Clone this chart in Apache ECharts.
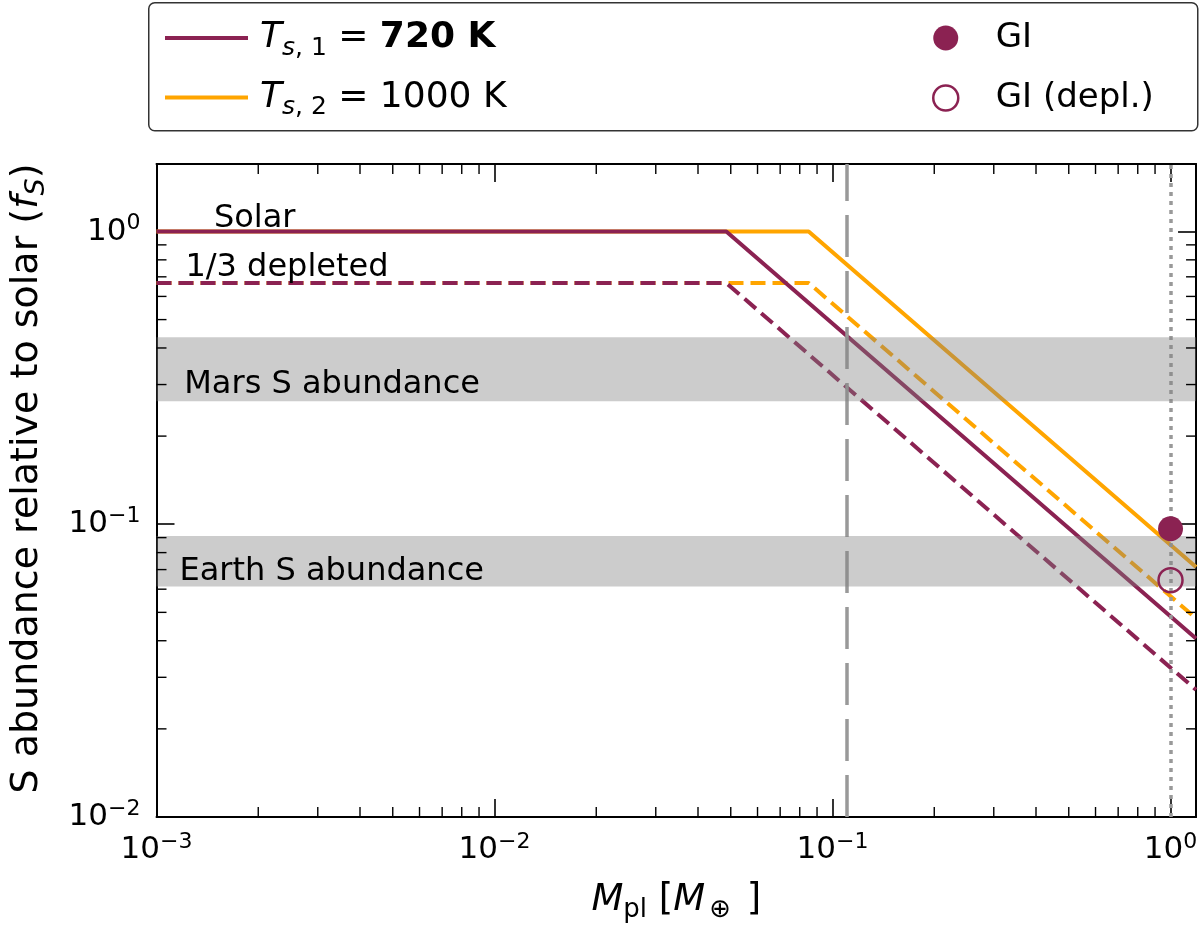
<!DOCTYPE html>
<html><head><meta charset="utf-8">
<script src="https://cdn.jsdelivr.net/npm/echarts@6/dist/echarts.min.js"></script>
<style>html,body{margin:0;padding:0;background:#fff}#c{width:1200px;height:928px}</style>
</head><body><div id="c"></div>
<script>
// ---------- data ----------
const PURPLE = '#8b2252';
const ORANGE = '#ffa500';
const FONT = 'DejaVu Sans';

const X_MIN = 0.001, X_MAX = 1.19;
const Y_MIN = 0.01, Y_MAX = 1.7;

const xTickExponents = ['−3', '−2', '−1', '0'];
const yTickExponents = ['−2', '−1', '0'];

// planet mass [M_earth] vs S abundance relative to solar
const tsOneSolid = [[0.001, 1.0], [0.0485, 1.0], [1.19, 0.0407]];
const tsTwoSolid = [[0.001, 1.0], [0.085, 1.0], [1.19, 0.0714]];
const tsOneDepl  = [[0.001, 0.667], [0.0485, 0.667], [1.19, 0.0272]];
const tsTwoDepl  = [[0.001, 0.667], [0.085, 0.667], [1.19, 0.0477]];

const giPoint     = [[1.0, 0.0965]];
const giDeplPoint = [[1.0, 0.0644]];

const marsBand  = [0.263, 0.4355];
const earthBand = [0.0613, 0.0912];

const marsMass = 0.107;
const earthMass = 1.0;

const minorMultipliers = [2, 3, 4, 5, 6, 7, 8, 9];
const xDecades = [0.001, 0.01, 0.1];
const yDecades = [0.01, 0.1];

// ---------- helpers ----------
const xMinor = [];
xDecades.forEach(d => minorMultipliers.forEach(m => { const v = d * m; if (v <= X_MAX) xMinor.push([v, 1]); }));
const yMinor = [];
yDecades.forEach(d => minorMultipliers.forEach(m => { const v = d * m; if (v <= Y_MAX) yMinor.push([0.01, v]); }));

const tickRich = {
  b: { fontSize: 31, fontFamily: FONT, color: '#000' },
  sup: { fontSize: 22, fontFamily: FONT, color: '#000', padding: [0, 0, 16, 0] }
};
function tickLabel(v, base, labels) {
  const l = Math.log10(v);
  const r = Math.round(l);
  if (Math.abs(l - r) > 0.01) return '';
  const s = labels[r - base];
  return s === undefined ? '' : '{b|10}{sup|' + s + '}';
}

const commonAxisLine = { show: true, lineStyle: { color: '#000', width: 2 } };
const commonTick = { show: true, inside: true, length: 18, lineStyle: { color: '#000', width: 1.6 } };

const option = {
  animation: false,
  backgroundColor: '#fff',
  grid: { left: 147, right: 3, top: 164, bottom: 106, containLabel: false },
  xAxis: [
    {
      type: 'log', logBase: 10, min: X_MIN, max: X_MAX, position: 'bottom',
      axisLine: commonAxisLine, axisTick: commonTick, splitLine: { show: false },
      axisLabel: {
        margin: 14, color: '#000', showMaxLabel: false,
        formatter: v => tickLabel(v, -3, xTickExponents),
        rich: tickRich
      },
      name: '{it|M}{sub|pl}{n| [}{it|M}{sub2|⊕}{n| ]}',
      nameLocation: 'middle', nameGap: 60,
      nameTextStyle: {
        color: '#000', fontFamily: FONT, fontSize: 37,
        rich: {
          it: { fontSize: 37, fontStyle: 'italic', fontFamily: FONT, color: '#000' },
          n: { fontSize: 37, fontFamily: FONT, color: '#000' },
          sub: { fontSize: 26, fontFamily: FONT, color: '#000', padding: [20, 0, 0, 0] },
          sub2: { fontSize: 26, fontFamily: FONT, color: '#000', padding: [20, 4, 0, 4] }
        }
      }
    },
    {
      type: 'log', logBase: 10, min: X_MIN, max: X_MAX, position: 'top',
      axisLine: commonAxisLine, axisTick: commonTick, splitLine: { show: false },
      axisLabel: { show: false }
    }
  ],
  yAxis: [
    {
      type: 'log', logBase: 10, min: Y_MIN, max: Y_MAX, position: 'left',
      axisLine: commonAxisLine, axisTick: commonTick, splitLine: { show: false },
      axisLabel: {
        margin: 16, color: '#000', showMaxLabel: false,
        formatter: v => tickLabel(v, -2, yTickExponents),
        rich: tickRich
      },
      name: '{n|S abundance relative to solar (}{it|f}{sub|S}{n|)}',
      nameLocation: 'middle', nameGap: 106, nameRotate: 90,
      nameTextStyle: {
        color: '#000', fontFamily: FONT, fontSize: 38, padding: [0, 0, 0, 24],
        rich: {
          it: { fontSize: 38, fontStyle: 'italic', fontFamily: FONT, color: '#000' },
          n: { fontSize: 38, fontFamily: FONT, color: '#000' },
          sub: { fontSize: 27, fontStyle: 'italic', fontFamily: FONT, color: '#000', padding: [20, 0, 0, 0] }
        }
      }
    },
    {
      type: 'log', logBase: 10, min: Y_MIN, max: Y_MAX, position: 'right',
      axisLine: commonAxisLine, axisTick: commonTick, splitLine: { show: false },
      axisLabel: { show: false }
    }
  ],
  legend: [
    {
      left: 160, top: 15, orient: 'vertical', selectedMode: false,
      itemWidth: 83, itemHeight: 4, itemGap: 19, icon: 'rect',
      data: ['Ts1', 'Ts2'],
      formatter: n => n === 'Ts1'
        ? '{sp| }{it|T}{sub|s}{subn|, 1}{n| = }{bd|720 K}'
        : '{sp| }{it|T}{sub|s}{subn|, 2}{n| = 1000 K}',
      textStyle: {
        fontSize: 34, fontFamily: FONT, color: '#000',
        rich: {
          sp: { width: 7, fontSize: 34 },
          it: { fontSize: 36, fontStyle: 'italic', fontFamily: FONT, color: '#000' },
          sub: { fontSize: 25, fontStyle: 'italic', fontFamily: FONT, color: '#000', padding: [20, 0, 0, 0] },
          subn: { fontSize: 25, fontFamily: FONT, color: '#000', padding: [20, 0, 0, 0] },
          n: { fontSize: 36, fontFamily: FONT, color: '#000' },
          bd: { fontSize: 36, fontWeight: 'bold', fontFamily: FONT, color: '#000' }
        }
      }
    },
    {
      left: 927, top: 11, orient: 'vertical', selectedMode: false,
      itemWidth: 90, itemHeight: 25, itemGap: 16, icon: 'circle',
      data: [
        { name: 'GI', itemStyle: { color: PURPLE, borderWidth: 0 } },
        { name: 'GI (depl.)', itemStyle: { color: 'rgba(255,255,255,0)', borderColor: PURPLE, borderWidth: 2.5 } }
      ],
      textStyle: { fontSize: 34, fontFamily: FONT, color: '#000', lineHeight: 44 }
    }
  ],
  series: [
    { name: 'Ts2', type: 'line', data: tsTwoSolid, symbol: 'none', z: 2, silent: true,
      lineStyle: { color: ORANGE, width: 4 }, itemStyle: { color: ORANGE } },
    { name: 'Ts2 depl', type: 'line', data: tsTwoDepl, symbol: 'none', z: 2, silent: true,
      lineStyle: { color: ORANGE, width: 4, type: [15, 7] }, itemStyle: { color: ORANGE } },
    { name: 'Ts1', type: 'line', data: tsOneSolid, symbol: 'none', z: 2, silent: true,
      lineStyle: { color: PURPLE, width: 4 }, itemStyle: { color: PURPLE } },
    { name: 'Ts1 depl', type: 'line', data: tsOneDepl, symbol: 'none', z: 2, silent: true,
      lineStyle: { color: PURPLE, width: 4, type: [15, 7] }, itemStyle: { color: PURPLE } },
    { name: 'refs', type: 'line', data: [], z: 3, silent: true,
      markLine: {
        silent: true, symbol: 'none', z: 3, animation: false,
        label: { show: false },
        data: [
          { xAxis: marsMass, lineStyle: { color: '#999', width: 3.5, type: [42, 14] } },
          { xAxis: earthMass, lineStyle: { color: '#999', width: 3.5, type: [4, 5] } }
        ]
      }
    },
    { name: 'bands', type: 'custom', z: 4, silent: true,
      data: [marsBand, earthBand],
      renderItem: (params, api) => {
        const cs = params.coordSys;
        const yLo = api.coord([X_MIN, api.value(0)])[1];
        const yHi = api.coord([X_MIN, api.value(1)])[1];
        return { type: 'rect', shape: { x: cs.x, y: yHi, width: cs.width, height: yLo - yHi },
                 style: { fill: 'rgba(128,128,128,0.4)' } };
      }
    },
    { name: 'GI', type: 'scatter', data: giPoint, z: 6, silent: true, symbolSize: 25,
      itemStyle: { color: PURPLE, opacity: 1 } },
    { name: 'GI (depl.)', type: 'scatter', data: giDeplPoint, z: 6, silent: true, symbolSize: 24,
      itemStyle: { color: 'rgba(255,255,255,0)', borderColor: PURPLE, borderWidth: 2.5, opacity: 1 } },
    { name: 'xminor', type: 'custom', z: 7, silent: true, data: xMinor,
      renderItem: (params, api) => {
        const cs = params.coordSys;
        const x = api.coord([api.value(0), 1])[0];
        const st = { stroke: '#000', lineWidth: 1.4 };
        return { type: 'group', children: [
          { type: 'line', shape: { x1: x, y1: cs.y + cs.height, x2: x, y2: cs.y + cs.height - 10 }, style: st },
          { type: 'line', shape: { x1: x, y1: cs.y, x2: x, y2: cs.y + 10 }, style: st }
        ] };
      }
    },
    { name: 'yminor', type: 'custom', z: 7, silent: true, data: yMinor,
      renderItem: (params, api) => {
        const cs = params.coordSys;
        const y = api.coord([X_MIN, api.value(1)])[1];
        const st = { stroke: '#000', lineWidth: 1.4 };
        return { type: 'group', children: [
          { type: 'line', shape: { x1: cs.x, y1: y, x2: cs.x + 10, y2: y }, style: st },
          { type: 'line', shape: { x1: cs.x + cs.width, y1: y, x2: cs.x + cs.width - 10, y2: y }, style: st }
        ] };
      }
    }
  ]
};

const chart = echarts.init(document.getElementById('c'), null, { renderer: 'canvas' });
chart.setOption(option);

// annotations anchored in data coordinates
const annotations = [
  { text: 'Solar', at: [0.00153, 1.0], dx: -5, dy: -13 },
  { text: '1/3 depleted', at: [0.00126, 0.667], dx: -5, dy: -15 },
  { text: 'Mars S abundance', at: [0.00125, 0.3], dx: -5, dy: 0 },
  { text: 'Earth S abundance', at: [0.00121, 0.07], dx: -5, dy: 2 }
];
const graphics = [
  { type: 'rect', left: 148, top: 2, z: 0,
    shape: { width: 1049, height: 128, r: 6 },
    style: { fill: '#fff', stroke: '#333', lineWidth: 1.5 } }
];
annotations.forEach(a => {
  const p = chart.convertToPixel({ gridIndex: 0 }, a.at);
  graphics.push({ type: 'text', x: p[0] + a.dx, y: p[1] + a.dy, z: 20, silent: true,
    style: { text: a.text, font: '32px "DejaVu Sans"', fill: '#000', align: 'left', verticalAlign: 'middle' } });
});
chart.setOption({ graphic: graphics });
</script>
</body></html>
